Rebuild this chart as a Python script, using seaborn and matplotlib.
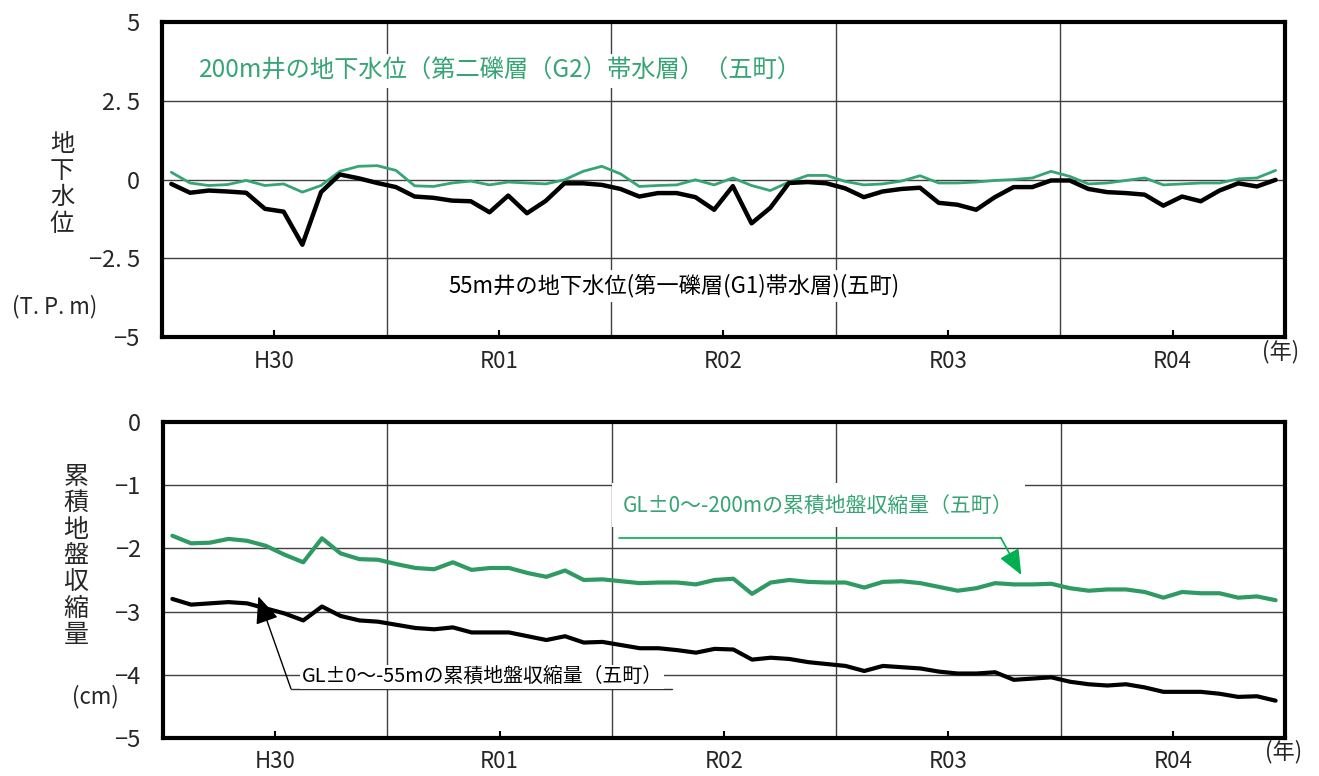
import numpy as np
import pandas as pd
import matplotlib
matplotlib.use("Agg")
import matplotlib.pyplot as plt
import seaborn as sns

# data (monthly, 5 fiscal years)
years = ["H30", "R01", "R02", "R03", "R04"]

level_200m = [0.23, -0.11, -0.19, -0.16, -0.03, -0.19, -0.14, -0.40, -0.19, 0.26, 0.42, 0.44,
              0.29, -0.20, -0.22, -0.11, -0.05, -0.17, -0.08, -0.11, -0.14, -0.01, 0.26, 0.42,
              0.18, -0.22, -0.19, -0.17, -0.01, -0.17, 0.05, -0.19, -0.35, -0.08, 0.13, 0.13,
              -0.06, -0.17, -0.14, -0.05, 0.12, -0.11, -0.11, -0.08, -0.03, 0.00, 0.05, 0.26,
              0.10, -0.14, -0.11, -0.03, 0.05, -0.17, -0.14, -0.11, -0.11, 0.02, 0.05, 0.29]

level_55m = [-0.14, -0.42, -0.35, -0.38, -0.42, -0.93, -1.02, -2.07, -0.40, 0.16, 0.04, -0.11,
             -0.24, -0.54, -0.58, -0.67, -0.69, -1.04, -0.51, -1.07, -0.68, -0.12, -0.12, -0.17,
             -0.30, -0.54, -0.43, -0.43, -0.56, -0.96, -0.21, -1.39, -0.90, -0.11, -0.08, -0.12,
             -0.28, -0.56, -0.38, -0.30, -0.26, -0.74, -0.80, -0.96, -0.56, -0.24, -0.24, -0.03,
             -0.03, -0.30, -0.40, -0.43, -0.48, -0.83, -0.54, -0.69, -0.35, -0.12, -0.22, -0.01]

shrink_200m = [-1.80, -1.92, -1.91, -1.85, -1.88, -1.96, -2.10, -2.22, -1.84, -2.08, -2.17, -2.18,
               -2.25, -2.31, -2.33, -2.22, -2.34, -2.31, -2.31, -2.39, -2.45, -2.35, -2.50, -2.49,
               -2.52, -2.55, -2.54, -2.54, -2.57, -2.50, -2.48, -2.72, -2.54, -2.50, -2.53, -2.54,
               -2.54, -2.62, -2.53, -2.52, -2.55, -2.61, -2.67, -2.63, -2.55, -2.57, -2.57, -2.56,
               -2.63, -2.67, -2.65, -2.65, -2.69, -2.78, -2.69, -2.71, -2.71, -2.78, -2.76, -2.82]

shrink_55m = [-2.80, -2.89, -2.87, -2.85, -2.87, -2.95, -3.03, -3.14, -2.92, -3.07, -3.14, -3.16,
              -3.21, -3.26, -3.28, -3.25, -3.33, -3.33, -3.33, -3.39, -3.45, -3.39, -3.49, -3.48,
              -3.53, -3.58, -3.58, -3.61, -3.65, -3.59, -3.60, -3.76, -3.73, -3.75, -3.80, -3.83,
              -3.86, -3.94, -3.86, -3.88, -3.90, -3.95, -3.98, -3.98, -3.96, -4.08, -4.06, -4.04,
              -4.11, -4.15, -4.17, -4.15, -4.20, -4.27, -4.27, -4.27, -4.30, -4.35, -4.34, -4.41]

month = np.arange(len(level_200m)) + 0.5
df = pd.DataFrame({"month": month, "level_200m": level_200m, "level_55m": level_55m,
                   "shrink_200m": shrink_200m, "shrink_55m": shrink_55m})

sns.set_theme(style="white")
plt.rcParams["font.family"] = ["Noto Sans CJK JP", "DejaVu Sans"]

GREEN = "#36a474"
fig = plt.figure(figsize=(13.19, 7.76), dpi=100)
ax1 = fig.add_axes([0.1228, 0.5657, 0.8514, 0.4059])
ax2 = fig.add_axes([0.1236, 0.0490, 0.8506, 0.4072])


def style_axis(ax, yticks, ylabels):
    ax.set_xlim(0, 60)
    ax.set_ylim(yticks[-1], yticks[0])
    ax.set_yticks(yticks)
    ax.set_yticklabels(ylabels, fontsize=17)
    ax.set_xticks([6, 18, 30, 42, 54])
    ax.set_xticklabels(years, fontsize=16)
    ax.set_xticks([12, 24, 36, 48], minor=True)
    ax.grid(False)
    ax.grid(True, axis="y", which="major", color="#404040", lw=1)
    ax.grid(True, axis="x", which="minor", color="#404040", lw=1)
    ax.tick_params(axis="x", which="major", direction="in", length=5, width=1.5,
                   color="black", pad=9, bottom=True)
    ax.tick_params(axis="x", which="minor", length=0)
    ax.tick_params(axis="y", length=0, pad=16)
    for s in ax.spines.values():
        s.set_color("black")
        s.set_linewidth(3)
    ax.set_xlabel("")
    ax.set_ylabel("")
    ax.set_axisbelow(True)


# top: groundwater level
sns.lineplot(data=df, x="month", y="level_200m", ax=ax1, color=GREEN, lw=2)
sns.lineplot(data=df, x="month", y="level_55m", ax=ax1, color="black", lw=3.2)
style_axis(ax1, [5, 2.5, 0, -2.5, -5], ["5", "2. 5", "0", "−2. 5", "−5"])

ax1.text(2.0, 3.45, "200m井の地下水位（第二礫層（G2）帯水層）（五町）", color=GREEN, fontsize=17.5,
         va="center", ha="left", bbox=dict(facecolor="white", edgecolor="none", pad=3))
ax1.text(15.3, -3.38, "55m井の地下水位(第一礫層(G1)帯水層)(五町)", color="black", fontsize=16,
         va="center", ha="left", bbox=dict(facecolor="white", edgecolor="none", pad=3))

# bottom: cumulative ground shrinkage
sns.lineplot(data=df, x="month", y="shrink_200m", ax=ax2, color="#2f9a63", lw=3)
sns.lineplot(data=df, x="month", y="shrink_55m", ax=ax2, color="black", lw=3)
style_axis(ax2, [0, -1, -2, -3, -4, -5], ["0", "−1", "−2", "−3", "−4", "−5"])

ax2.text(24.6, -1.32, "GL±0～-200mの累積地盤収縮量（五町）", color=GREEN, fontsize=15,
         va="center", ha="left", bbox=dict(facecolor="white", edgecolor="none", pad=8))
ax2.plot([24.4, 44.8], [-1.83, -1.83], color="#00b050", lw=1.2)
ax2.annotate("", xy=(45.9, -2.42), xytext=(44.8, -1.83),
             arrowprops=dict(arrowstyle="-|>,head_length=1.3,head_width=0.55",
                             color="#00b050", lw=1.2, shrinkA=0, shrinkB=0))

ax2.text(7.4, -4.03, "GL±0～-55mの累積地盤収縮量（五町）", color="black", fontsize=14.3,
         va="center", ha="left", bbox=dict(facecolor="white", edgecolor="none", pad=1))
ax2.plot([6.84, 27.2], [-4.22, -4.22], color="#303030", lw=1.0)
ax2.annotate("", xy=(5.1, -2.76), xytext=(6.84, -4.22),
             arrowprops=dict(arrowstyle="-|>,head_length=1.4,head_width=0.6",
                             color="black", lw=1.0, shrinkA=0, shrinkB=0))

# axis titles
fig.text(62 / 1319, 1 - 184 / 776, "地\n下\n水\n位", fontsize=17.5, ha="center", va="center",
         linespacing=1.02)
fig.text(55 / 1319, 1 - 307 / 776, "(T. P. m)", fontsize=16, ha="center", va="center")
fig.text(76 / 1319, 1 - 556 / 776, "累\n積\n地\n盤\n収\n縮\n量", fontsize=18, ha="center",
         va="center", linespacing=1.02)
fig.text(95 / 1319, 1 - 697 / 776, "(cm)", fontsize=16, ha="center", va="center")
fig.text(1281 / 1319, 1 - 352 / 776, "(年)", fontsize=16, ha="center", va="center")
fig.text(1284 / 1319, 1 - 752 / 776, "(年)", fontsize=16, ha="center", va="center")

fig.savefig("out.png", dpi=100, facecolor="white")
